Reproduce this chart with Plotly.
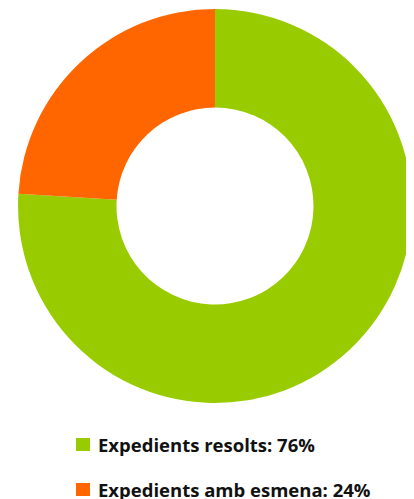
import plotly.graph_objects as go

labels = ["Expedients resolts", "Expedients amb esmena"]
values = [76, 24]
colors = ["#99CC00", "#FF6600"]

W, H = 414, 499
OFF = 8  # page body margin offset

fig = go.Figure()
fig.add_trace(go.Pie(
    labels=labels,
    values=values,
    hole=0.5,
    sort=False,
    direction="clockwise",
    rotation=0,
    marker=dict(colors=colors, line=dict(width=0)),
    textinfo="none",
    showlegend=False,
    domain=dict(x=[0.0242, 0.9758], y=[0.2084, 0.998]),
))

row_mid = [444.5, 489.5]
for lab, val, col, yy in zip(labels, values, colors, row_mid):
    ym = yy - OFF
    fig.add_shape(
        type="rect", xref="paper", yref="paper",
        x0=(76 - OFF) / W, x1=(90 - OFF) / W,
        y0=1 - (ym - 6.5) / H, y1=1 - (ym + 6.5) / H,
        fillcolor=col, line=dict(width=0),
    )
    fig.add_annotation(
        xref="paper", yref="paper",
        x=(96 - OFF) / W, y=1 - ym / H,
        xanchor="left", yanchor="middle",
        showarrow=False,
        text=f"<b>{lab}: {val}%</b>",
        font=dict(family="Open Sans", size=18.5, color="#111111"),
    )

fig.update_layout(
    width=W, height=H,
    margin=dict(l=0, r=0, t=0, b=0),
    paper_bgcolor="white",
    plot_bgcolor="white",
)

fig.write_html("out.html")
